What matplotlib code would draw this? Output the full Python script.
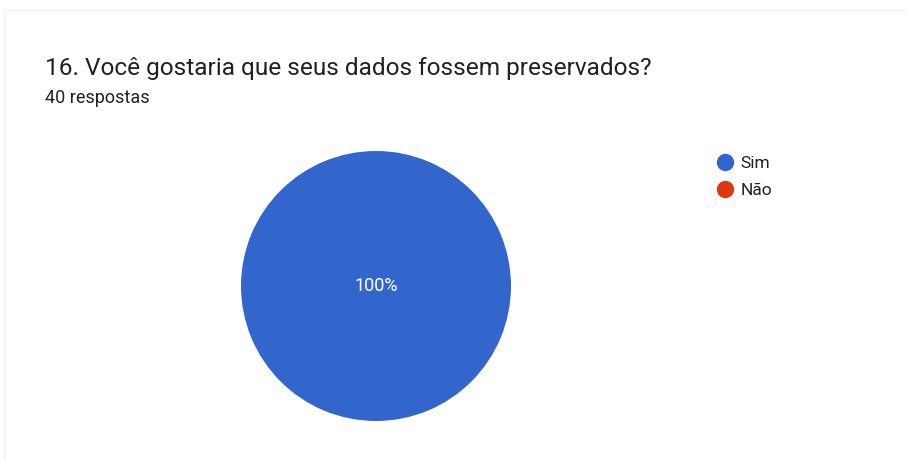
import matplotlib
matplotlib.use("Agg")
import matplotlib.pyplot as plt
from matplotlib.lines import Line2D
from matplotlib.patches import Rectangle

# Survey answers
categories = ["Sim", "Não"]
counts = [40, 0]
colors = ["#3366cc", "#dc3912"]
title = "16. Você gostaria que seus dados fossem preservados?"
subtitle = "40 respostas"

W, H = 907, 461
fig = plt.figure(figsize=(W / 100, H / 100), dpi=100)
fig.patch.set_facecolor("white")

# faint card outline
fig.patches.append(Rectangle((4 / W, -0.01), 1.0, 1 - 10 / H + 0.01,
                             transform=fig.transFigure, fill=False,
                             edgecolor="#f3f3f3", linewidth=1.0))

fig.text(45 / W, 1 - 68 / H, title, fontsize=17.6, family="Roboto",
         color="#202124", va="center", ha="left")
fig.text(45 / W, 1 - 98 / H, subtitle, fontsize=13, family="Roboto",
         color="#202124", va="center", ha="left")

# pie area
cx, cy, r = 376, 286, 135
ax = fig.add_axes([(cx - r) / W, 1 - (cy + r) / H, 2 * r / W, 2 * r / H])


def pct_label(p):
    return f"{p:.0f}%" if p > 0 else ""


wedges, texts, autotexts = ax.pie(
    counts, colors=colors, startangle=90, counterclock=False,
    autopct=pct_label, pctdistance=0.0,
    wedgeprops=dict(linewidth=0),
    textprops=dict(color="white", fontsize=13, family="Roboto"))
ax.set_aspect("equal")
ax.set_xlim(-1, 1)
ax.set_ylim(-1, 1)
ax.axis("off")

handles = [Line2D([], [], marker="o", linestyle="none", markersize=11.5,
                  markerfacecolor=c, markeredgecolor=c) for c in colors]
leg = fig.legend(handles, categories, loc="upper left",
                 bbox_to_anchor=(716 / W, 1 - 156 / H), frameon=False,
                 handletextpad=0.42, labelspacing=0.69, handlelength=1.0,
                 borderaxespad=0, borderpad=0,
                 prop=dict(family="Roboto", size=12.5))
for t in leg.get_texts():
    t.set_color("#202124")

fig.savefig("out.png", dpi=100, facecolor="white")
